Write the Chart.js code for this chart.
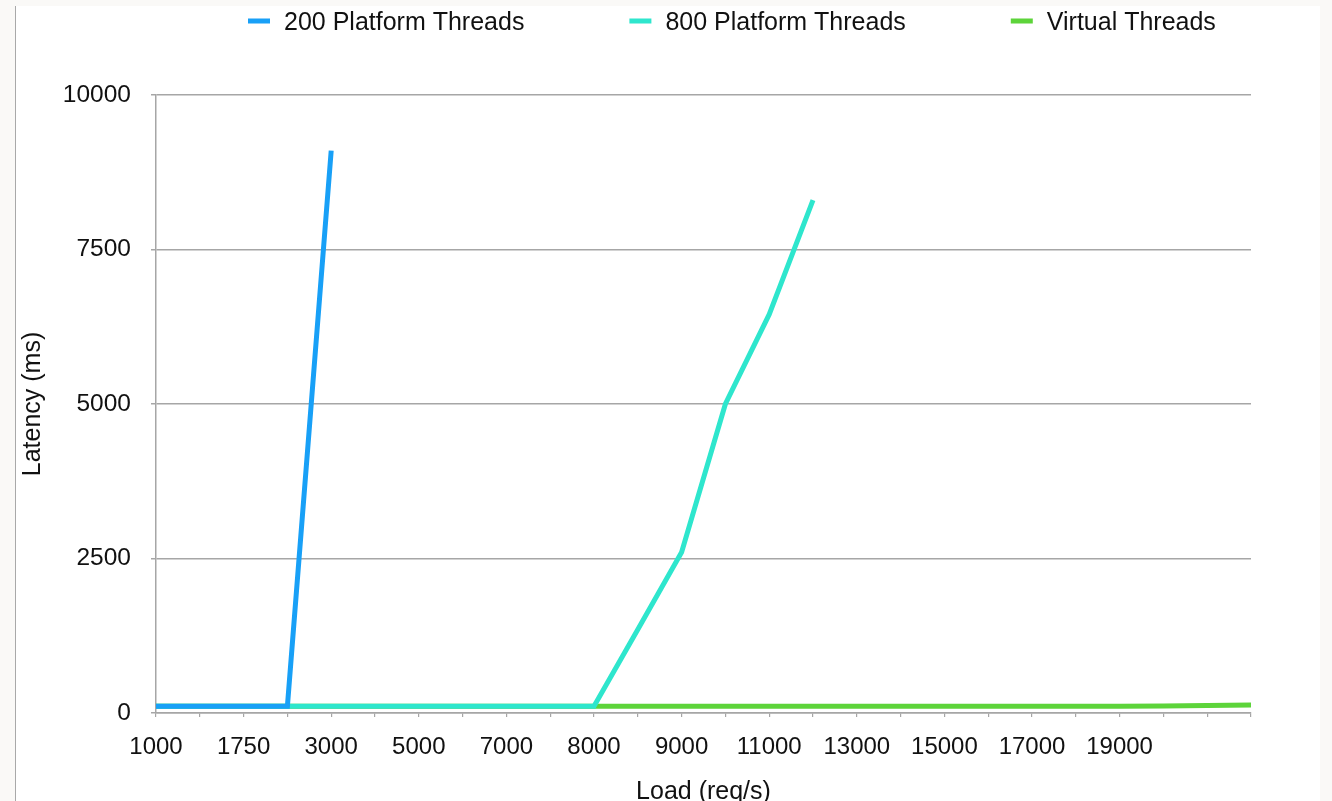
<!DOCTYPE html>
<html>
<head>
<meta charset="utf-8">
<script src="https://cdn.jsdelivr.net/npm/chart.js@4.4.1/dist/chart.umd.min.js"></script>
<style>
  html, body { margin: 0; padding: 0; width: 1332px; height: 801px; overflow: hidden; background: #faf9f7; }
  #panel { position: absolute; left: 15px; top: 6px; width: 1304px; height: 800px; background: #ffffff; border-left: 1px solid #a9a9a9; }
  #wrap { position: absolute; left: 0; top: 0; width: 1332px; height: 801px; overflow: hidden; }
  canvas { display: block; }
</style>
</head>
<body>
<div id="panel"></div>
<div id="wrap"><canvas id="chart" width="1332" height="810"></canvas></div>
<script>
// Load levels (req/s) on the category axis
const loads = [1000, 1500, 1750, 2000, 3000, 4000, 5000, 6000, 7000, 7500, 8000, 8500, 9000,
               10000, 11000, 12000, 13000, 14000, 15000, 16000, 17000, 18000, 19000, 20000, 21000, 22000];

// Labels printed under the x axis ('' = tick mark only)
const xTickLabels = ['1000', '', '1750', '', '3000', '', '5000', '', '7000', '', '8000', '', '9000', '',
                     '11000', '', '13000', '', '15000', '', '17000', '', '19000', '', '', ''];

// Latency axis ticks (ms)
const yTicks = [0, 2500, 5000, 7500, 10000];

// Latency (ms) per load level
const platform200 = [110, 110, 110, 110, 9100, null, null, null, null, null, null, null, null,
                     null, null, null, null, null, null, null, null, null, null, null, null, null];
const platform800 = [110, 110, 110, 110, 110, 110, 110, 110, 110, 110, 110, 1350, 2600,
                     5000, 6450, 8300, null, null, null, null, null, null, null, null, null, null];
const virtualThreads = [110, 110, 110, 110, 110, 110, 110, 110, 110, 110, 110, 110, 110,
                        110, 110, 110, 110, 110, 110, 110, 110, 110, 110, 115, 120, 130];

const seriesNames = ['200 Platform Threads', '800 Platform Threads', 'Virtual Threads'];
const seriesColors = ['#18a0f7', '#2ee6cd', '#5dd43a'];

const FONT = '"Liberation Sans", Arial, Helvetica, sans-serif';
const GRID = '#a6a6a6';

// Legend drawn as a single row of short line swatches above the plot
const lineLegend = {
  id: 'lineLegend',
  afterDraw(chart, args, opts) {
    const ctx = chart.ctx;
    ctx.save();
    ctx.font = opts.fontSize + 'px ' + FONT;
    ctx.textBaseline = 'middle';
    ctx.textAlign = 'left';
    let x = opts.x;
    chart.data.datasets.forEach(ds => {
      ctx.fillStyle = ds.borderColor;
      ctx.fillRect(x, opts.y - opts.markH / 2, opts.markW, opts.markH);
      const tx = x + opts.markW + opts.textGap;
      ctx.fillStyle = opts.color;
      ctx.fillText(ds.label, tx, opts.y + opts.textDy);
      x = tx + ctx.measureText(ds.label).width + opts.itemGap;
    });
    ctx.restore();
  }
};

new Chart(document.getElementById('chart'), {
  type: 'line',
  data: {
    labels: loads.map(String),
    datasets: [
      { label: seriesNames[0], data: platform200, borderColor: seriesColors[0], backgroundColor: seriesColors[0] },
      { label: seriesNames[1], data: platform800, borderColor: seriesColors[1], backgroundColor: seriesColors[1] },
      { label: seriesNames[2], data: virtualThreads, borderColor: seriesColors[2], backgroundColor: seriesColors[2] }
    ]
  },
  options: {
    responsive: false,
    animation: false,
    layout: { padding: { left: 15, top: 95, right: 81, bottom: 0 } },
    elements: {
      point: { radius: 0, hoverRadius: 0 },
      line: { borderWidth: 5, tension: 0, borderCapStyle: 'butt', borderJoinStyle: 'miter' }
    },
    plugins: {
      legend: { display: false },
      tooltip: { enabled: false },
      lineLegend: { x: 248, y: 21, textDy: 2, markW: 22, markH: 5, textGap: 14, itemGap: 105, fontSize: 25, color: '#111111' }
    },
    scales: {
      x: {
        type: 'category',
        offset: false,
        grid: { drawOnChartArea: false, drawTicks: true, tickLength: 4, color: GRID, lineWidth: 1.2 },
        border: { display: true, color: GRID, width: 1.5 },
        ticks: {
          autoSkip: false, maxRotation: 0, minRotation: 0, padding: 16,
          color: '#111111', font: { family: FONT, size: 24 },
          callback: (v, i) => xTickLabels[i]
        },
        title: {
          display: true, text: 'Load (req/s)', color: '#111111',
          font: { family: FONT, size: 25 }, padding: { top: 0, bottom: 3 }
        },
        afterFit: s => { s.height = 97; }
      },
      y: {
        min: yTicks[0],
        max: yTicks[yTicks.length - 1],
        afterBuildTicks: s => { s.ticks = yTicks.map(v => ({ value: v })); },
        grid: { color: GRID, lineWidth: 1.5, tickLength: 5, drawTicks: true },
        border: { display: true, color: GRID, width: 1.5 },
        ticks: {
          padding: 20, color: '#111111', font: { family: FONT, size: 24.5 },
          callback: v => String(v)
        },
        title: {
          display: true, text: 'Latency (ms)', color: '#111111',
          font: { family: FONT, size: 25 }, padding: { top: 3, bottom: 0 }
        },
        afterFit: s => { s.width = 141; }
      }
    }
  },
  plugins: [lineLegend]
});
</script>
</body>
</html>
